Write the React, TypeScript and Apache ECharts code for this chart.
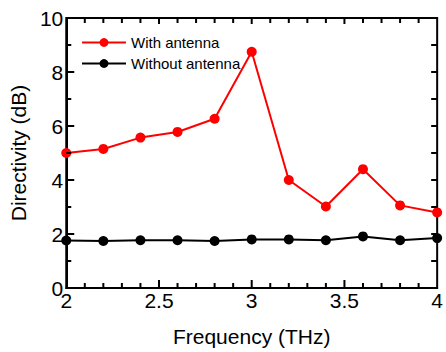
import React, { useEffect, useRef } from "react";
import * as echarts from "echarts";

const frequencies = [2.0, 2.2, 2.4, 2.6, 2.8, 3.0, 3.2, 3.4, 3.6, 3.8, 4.0];
const withAntenna = [5.0, 5.15, 5.57, 5.78, 6.27, 8.75, 4.0, 3.02, 4.4, 3.06, 2.8];
const withoutAntenna = [1.76, 1.74, 1.77, 1.77, 1.74, 1.8, 1.8, 1.77, 1.91, 1.77, 1.85];
const seriesNames = ["With antenna", "Without antenna"];
const xAxisTitle = "Frequency (THz)";
const yAxisTitle = "Directivity (dB)";
const xMajorTicks = [2.5, 3, 3.5];
const xMinorTicks = [2.1, 2.2, 2.3, 2.4, 2.6, 2.7, 2.8, 2.9, 3.1, 3.2, 3.3, 3.4, 3.6, 3.7, 3.8, 3.9];
const yMajorTicks = [2, 4, 6, 8];
const yMinorTicks = [1, 3, 5, 7, 9];
const X_MIN = 2;
const X_MAX = 4;
const Y_MIN = 0;
const Y_MAX = 10;

const FONT = "Liberation Sans, Arial, sans-serif";

function tickSeries(data: number[][], size: number[], offset: number[]) {
  return {
    type: "scatter",
    data,
    symbol: "rect",
    symbolSize: size,
    symbolOffset: offset,
    itemStyle: { color: "#000", opacity: 1 },
    silent: true,
    clip: false,
    z: 5,
    legendHoverLink: false,
    tooltip: { show: false },
  };
}

export default function App() {
  const ref = useRef<HTMLDivElement>(null);
  useEffect(() => {
    if (!ref.current) return;
    const chart = echarts.init(ref.current, undefined, { renderer: "svg" });
    chart.setOption({
      animation: false,
      grid: {
        left: 64,
        right: 8,
        top: 18,
        bottom: 63,
        containLabel: false,
        show: true,
        borderColor: "#000",
        borderWidth: 2,
      },
      legend: {
        orient: "vertical",
        left: 76,
        top: 30,
        itemWidth: 44,
        itemHeight: 11,
        itemGap: 6,
        textStyle: { fontSize: 15, color: "#000", fontFamily: FONT },
        data: seriesNames,
      },
      xAxis: {
        type: "value",
        min: X_MIN,
        max: X_MAX,
        interval: 0.5,
        position: "bottom",
        name: xAxisTitle,
        nameLocation: "middle",
        nameGap: 38,
        nameTextStyle: { fontSize: 21, color: "#000", fontFamily: FONT },
        axisLine: { show: true, onZero: false, lineStyle: { color: "#000", width: 2 } },
        axisTick: { show: false },
        minorTick: { show: false },
        splitLine: { show: false },
        axisLabel: {
          show: true,
          fontSize: 21,
          color: "#000",
          margin: 2,
          fontFamily: FONT,
          formatter: (v: number) => String(v),
        },
      },
      yAxis: {
        type: "value",
        min: Y_MIN,
        max: Y_MAX,
        interval: 2,
        position: "left",
        name: yAxisTitle,
        nameLocation: "middle",
        nameGap: 28,
        nameTextStyle: { fontSize: 21, color: "#000", fontFamily: FONT },
        axisLine: { show: true, onZero: false, lineStyle: { color: "#000", width: 2 } },
        axisTick: { show: false },
        minorTick: { show: false },
        splitLine: { show: false },
        axisLabel: { show: true, fontSize: 21, color: "#000", margin: 3, fontFamily: FONT },
      },
      series: [
        {
          name: seriesNames[0],
          type: "line",
          data: frequencies.map((f, i) => [f, withAntenna[i]]),
          symbol: "circle",
          symbolSize: 10,
          itemStyle: { color: "#ff0000" },
          lineStyle: { color: "#ff0000", width: 2 },
          z: 3,
        },
        {
          name: seriesNames[1],
          type: "line",
          data: frequencies.map((f, i) => [f, withoutAntenna[i]]),
          symbol: "circle",
          symbolSize: 10,
          itemStyle: { color: "#000" },
          lineStyle: { color: "#000", width: 2 },
          z: 2,
        },
        // inward tick marks on all four sides
        tickSeries(xMajorTicks.map((v) => [v, Y_MIN]), [2, 8], [0, -4]),
        tickSeries(xMinorTicks.map((v) => [v, Y_MIN]), [2, 5], [0, -2.5]),
        tickSeries(xMajorTicks.map((v) => [v, Y_MAX]), [2, 6], [0, 3]),
        tickSeries(xMinorTicks.map((v) => [v, Y_MAX]), [2, 5], [0, 2.5]),
        tickSeries(yMajorTicks.map((v) => [X_MIN, v]), [8, 2], [4, 0]),
        tickSeries(yMinorTicks.map((v) => [X_MIN, v]), [5, 2], [2.5, 0]),
        tickSeries(yMajorTicks.map((v) => [X_MAX, v]), [6, 2], [-3, 0]),
        tickSeries(yMinorTicks.map((v) => [X_MAX, v]), [6, 2], [-3, 0]),
      ],
    });
    return () => chart.dispose();
  }, []);
  return <div ref={ref} style={{ width: 446, height: 352, position: "absolute", left: 0, top: 0, background: "#fff" }} />;
}
